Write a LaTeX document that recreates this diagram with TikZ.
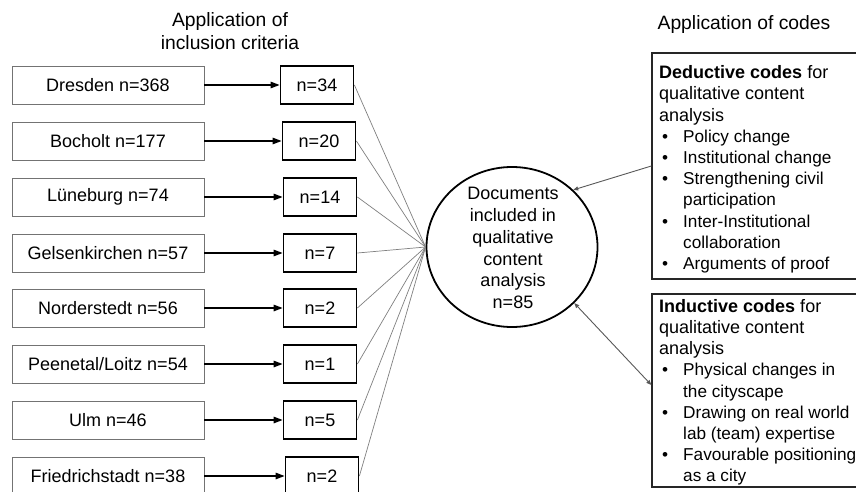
\documentclass[tikz,border=0pt]{standalone}
\usepackage{fontspec}
\setmainfont{Liberation Sans}
\usetikzlibrary{arrows.meta,shapes.geometric,calc}
\newcommand{\bl}{\hspace*{3pt}\makebox[21pt][l]{\textbullet}}
\newcommand{\bi}{\hspace*{24pt}}
\newcommand{\bsz}[1]{{\fontsize{17.2}{21.2}\selectfont #1}}
\tikzset{
  srcbox/.style={draw=black!55, line width=0.9pt, minimum width=192pt, minimum height=38pt, inner sep=0pt,
    font=\fontsize{18}{21}\selectfont},
  selbox/.style={draw=black, line width=1.8pt, minimum width=73pt, minimum height=38pt, inner sep=0pt,
    font=\fontsize{18}{21}\selectfont},
  flow/.style={-{Triangle[length=9pt,width=6.5pt]}, line width=1.3pt, black},
  feed/.style={draw=black!50, line width=0.7pt},
  codeframe/.style={draw=black!85, line width=1.3pt, minimum width=210pt, inner sep=0pt},
  codetext/.style={anchor=north west, inner sep=0pt, align=left, font=\fontsize{18}{21.2}\selectfont},
  title/.style={align=center, inner sep=0pt, font=\fontsize{19.3}{23}\selectfont},
  codearrow/.style={draw=black!65, line width=0.9pt}
}
\begin{document}
\begin{tikzpicture}[x=1pt,y=-1pt]
\clip (0,0) rectangle (856,492);
\useasboundingbox (0,0) rectangle (856,492);
\fill[white] (0,0) rectangle (856,492);

% titles
\node[title] (t1) at (230,31.5) {Application of\\inclusion criteria};
\node[title] (t2) at (744,25) {Application of codes};

% source boxes
\node[srcbox] (a1) at (108,85)  {Dresden n=368};
\node[srcbox] (a2) at (108,141) {Bocholt n=177};
\node[srcbox] (a3) at (108,197) {Lüneburg n=74};
\node[srcbox] (a4) at (108,253) {Gelsenkirchen n=57};
\node[srcbox] (a5) at (108,308) {Norderstedt n=56};
\node[srcbox] (a6) at (108,364) {Peenetal/Loitz n=54};
\node[srcbox] (a7) at (108,420) {Ulm n=46};
\node[srcbox] (a8) at (108,476) {Friedrichstadt n=38};

% selected boxes
\node[selbox] (s1) at (317,85)  {n=34};
\node[selbox] (s2) at (319,141) {n=20};
\node[selbox] (s3) at (320,197) {n=14};
\node[selbox] (s4) at (320,253) {n=7};
\node[selbox] (s5) at (320,308) {n=2};
\node[selbox] (s6) at (320,364) {n=1};
\node[selbox] (s7) at (320,420) {n=5};
\node[selbox] (s8) at (322,476) {n=2};

\foreach \i in {1,...,8} {
  \draw[flow] (a\i.east) -- (s\i.west);
}

% documents ellipse
\node[draw=black, line width=1.8pt, ellipse, minimum width=171pt, minimum height=160pt, inner sep=0pt] (doc) at (512,247) {};
\node[align=center, inner sep=0pt, font=\fontsize{18}{21.8}\selectfont] (doctext) at (513,248)
  {Documents\\included in\\qualitative\\content\\analysis\\n=85};

\foreach \i in {1,...,8} {
  \draw[feed] (s\i.east) -- (doc.west);
}

% code boxes
\node[codeframe, minimum height=226pt] (ded) at (757,166) {};
\node[codetext] (dedtext) at (659,65.5) {\textbf{Deductive codes} for\\qualitative content\\analysis\\
  \bsz{\bl Policy change}\\
  \bsz{\bl Institutional change}\\
  \bsz{\bl Strengthening civil}\\
  \bsz{\bi participation}\\
  \bsz{\bl Inter-Institutional}\\
  \bsz{\bi collaboration}\\
  \bsz{\bl Arguments of proof}};

\node[codeframe, minimum height=193pt] (ind) at (757,390.5) {};
\node[codetext] (indtext) at (659,299) {\textbf{Inductive codes} for\\qualitative content\\analysis\\
  \bsz{\bl Physical changes in}\\
  \bsz{\bi the cityscape}\\
  \bsz{\bl Drawing on real world}\\
  \bsz{\bi lab (team) expertise}\\
  \bsz{\bl Favourable positioning}\\
  \bsz{\bi as a city}};

\draw[codearrow, -{Triangle[length=5pt,width=4pt]}] (ded.west) -- (doc.43);
\draw[codearrow, {Triangle[length=5pt,width=4pt]}-{Triangle[length=5pt,width=4pt]}] ($(ind.west)+(0,-5.5)$) -- (doc.318);
\end{tikzpicture}
\end{document}
